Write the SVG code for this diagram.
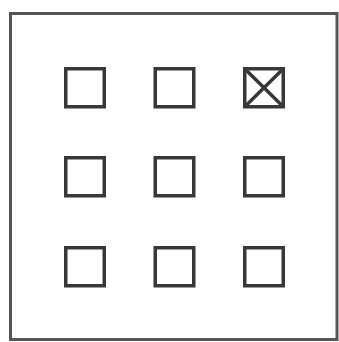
<svg xmlns="http://www.w3.org/2000/svg" width="339" height="342" viewBox="0 0 339 342">
<style>
.frame{fill:#fff;stroke:#555;stroke-width:3}
.box{fill:none;stroke:#383838;stroke-width:3.5}
.x{stroke:#383838;stroke-width:3.5}
</style>
<rect x="0" y="0" width="339" height="342" fill="#fff"/>
<g id="frame"><rect class="frame" x="10.5" y="13.5" width="326.5" height="326"/></g>
<g id="b11"><rect class="box" x="65.75" y="68.75" width="38.5" height="38"/></g>
<g id="b12"><rect class="box" x="155.25" y="68.75" width="38.5" height="38"/></g>
<g id="b13"><rect class="box" x="244.75" y="68.75" width="38.5" height="38"/>
<line class="x" x1="246.5" y1="70.5" x2="281.5" y2="105"/><line class="x" x1="281.5" y1="70.5" x2="246.5" y2="105"/></g>
<g id="b21"><rect class="box" x="65.75" y="157.75" width="38.5" height="38"/></g>
<g id="b22"><rect class="box" x="155.25" y="157.75" width="38.5" height="38"/></g>
<g id="b23"><rect class="box" x="244.75" y="157.75" width="38.5" height="38"/></g>
<g id="b31"><rect class="box" x="65.75" y="247.75" width="38.5" height="38"/></g>
<g id="b32"><rect class="box" x="155.25" y="247.75" width="38.5" height="38"/></g>
<g id="b33"><rect class="box" x="244.75" y="247.75" width="38.5" height="38"/></g>
<g id="connectors"/>
</svg>
